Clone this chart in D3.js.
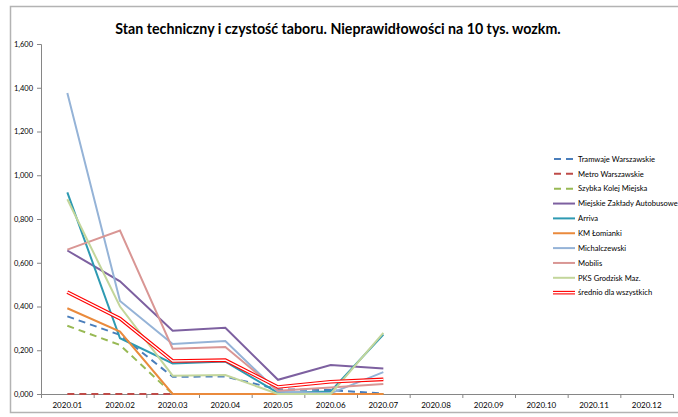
<!DOCTYPE html>
<html>
<head>
<meta charset="utf-8">
<script src="https://cdn.jsdelivr.net/npm/d3@7"></script>
<style>
  body { margin: 0; background: #fff; }
  svg { display: block; font-family: Lato, "Open Sans", sans-serif; }
</style>
</head>
<body>
<div id="chart"></div>
<script>
const months = ["2020.01", "2020.02", "2020.03", "2020.04", "2020.05", "2020.06",
  "2020.07", "2020.08", "2020.09", "2020.10", "2020.11", "2020.12"];
const yTicks = [0, 0.2, 0.4, 0.6, 0.8, 1.0, 1.2, 1.4, 1.6];

// values per month, 2020.01 - 2020.07
const tramwaje = [0.355, 0.27, 0.079, 0.08, 0.021, 0.018, 0.002];
const metro = [0, 0, 0, 0, 0, 0, 0];
const skm = [0.312, 0.224, 0, 0, 0, 0, 0];
const mza = [0.656, 0.515, 0.289, 0.303, 0.065, 0.132, 0.117];
const arriva = [0.922, 0.255, 0.14, 0.148, 0.005, 0.012, 0.272];
const lomianki = [0.392, 0.285, 0, 0, 0, 0, 0];
const michalczewski = [1.376, 0.425, 0.229, 0.242, 0.01, 0.003, 0.1];
const mobilis = [0.66, 0.747, 0.207, 0.215, 0.015, 0.03, 0.046];
const pks = [0.89, 0.4, 0.084, 0.087, 0, 0, 0.279];
const srednio = [0.466, 0.345, 0.151, 0.155, 0.032, 0.056, 0.067];

const seriesNames = ["Tramwaje Warszawskie", "Metro Warszawskie", "Szybka Kolej Miejska",
  "Miejskie Zakłady Autobusowe", "Arriva", "KM Łomianki", "Michalczewski", "Mobilis",
  "PKS Grodzisk Maz.", "średnio dla wszystkich"];
const seriesValues = [tramwaje, metro, skm, mza, arriva, lomianki, michalczewski, mobilis, pks, srednio];
const seriesColors = ["#4a7ebb", "#be4b48", "#98b954", "#7d60a0", "#2e9ab2", "#ea8a3c",
  "#95b3d7", "#d99694", "#c3d69b", "#ff0000"];
const seriesDash = [true, true, true, false, false, false, false, false, false, false];

const W = 678, H = 417;
const margin = { top: 44, right: 5, bottom: 23, left: 41 },
  plotW = 673 - margin.left,
  plotH = 394 - margin.top;

const svg = d3.select("#chart").append("svg")
  .attr("width", W).attr("height", H);

// outer chart border
svg.append("rect")
  .attr("x", 10.5).attr("y", 6.5)
  .attr("width", 700).attr("height", 406)
  .attr("fill", "none").attr("stroke", "#b3b3b3").attr("stroke-width", 1.5);

svg.append("text")
  .attr("x", 338).attr("y", 34)
  .attr("text-anchor", "middle")
  .attr("font-size", 14.2).attr("font-weight", "bold").attr("fill", "#000")
  .text("Stan techniczny i czystość taboru. Nieprawidłowości na 10 tys. wozkm.");

const g = svg.append("g").attr("transform", `translate(${margin.left},${margin.top})`);

const x = d3.scaleBand().domain(months).range([0, plotW]);
const y = d3.scaleLinear().domain([0, 1.6]).range([plotH, 0]);
const fmt = (d) => d3.format(".3f")(d).replace(/^(\d)\./, "$1,");

// Y axis
const yAxis = g.append("g")
  .call(d3.axisLeft(y).tickValues(yTicks).tickSize(4).tickPadding(4).tickFormat(fmt));
yAxis.select(".domain").attr("stroke", "#868686");
yAxis.selectAll(".tick line").attr("stroke", "#868686");
yAxis.selectAll("text").attr("font-size", 7.5).attr("fill", "#000")
  .attr("font-family", "Lato, sans-serif");

// X axis (ticks between categories)
const xAxis = g.append("g").attr("transform", `translate(0,${plotH})`)
  .call(d3.axisBottom(x).tickSize(0).tickPadding(8));
xAxis.select(".domain").attr("stroke", "#868686");
xAxis.selectAll("text").attr("font-size", 8).attr("fill", "#000")
  .attr("font-family", "Lato, sans-serif");
xAxis.selectAll(".bnd")
  .data(d3.range(months.length + 1))
  .join("line")
  .attr("x1", (i) => i * x.step() + 0.5).attr("x2", (i) => i * x.step() + 0.5)
  .attr("y1", 0).attr("y2", 4)
  .attr("stroke", "#868686");

const line = d3.line()
  .x((d, i) => x(months[i]) + x.bandwidth() / 2)
  .y((d) => y(d));

seriesValues.forEach((vals, k) => {
  if (k === 9) {
    g.append("path").attr("d", line(vals)).attr("fill", "none")
      .attr("stroke", seriesColors[k]).attr("stroke-width", 3.6);
    g.append("path").attr("d", line(vals)).attr("fill", "none")
      .attr("stroke", "#fff").attr("stroke-width", 1.4);
  } else {
    g.append("path").attr("d", line(vals)).attr("fill", "none")
      .attr("stroke", seriesColors[k]).attr("stroke-width", 2)
      .attr("stroke-dasharray", seriesDash[k] ? "7,5" : null);
  }
});

// legend
const legend = svg.append("g").attr("transform", "translate(553,159)");
seriesNames.forEach((name, k) => {
  const row = legend.append("g").attr("transform", `translate(0,${k * 14.85})`);
  if (k === 9) {
    row.append("line").attr("x1", 0).attr("x2", 22).attr("stroke", seriesColors[k]).attr("stroke-width", 3.6);
    row.append("line").attr("x1", 0).attr("x2", 22).attr("stroke", "#fff").attr("stroke-width", 1.4);
  } else {
    row.append("line").attr("x1", seriesDash[k] ? 1 : 0).attr("x2", 22)
      .attr("stroke", seriesColors[k]).attr("stroke-width", 2)
      .attr("stroke-dasharray", seriesDash[k] ? "7,5" : null);
  }
  row.append("text").attr("x", 25).attr("y", 2.7)
    .attr("font-size", 7.6).attr("fill", "#000")
    .text(name);
});
</script>
</body>
</html>
